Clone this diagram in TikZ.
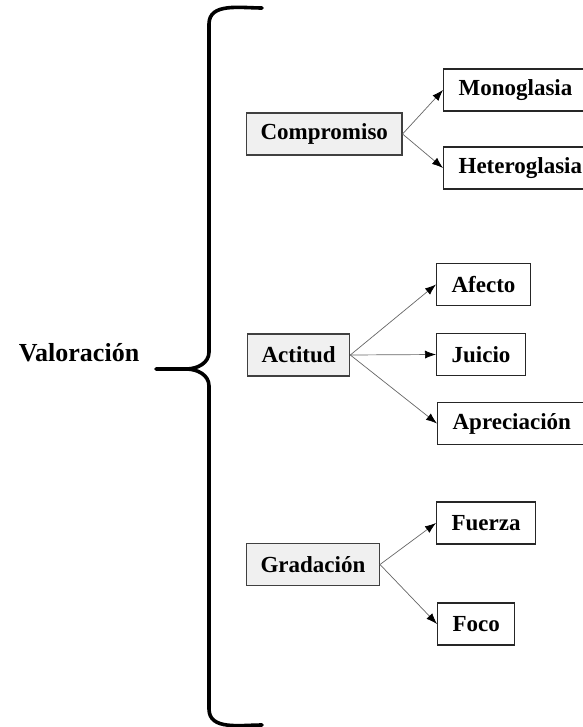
\documentclass[tikz,border=0pt]{standalone}
\usepackage{fontspec}
\setmainfont{Liberation Serif}
\usetikzlibrary{arrows.meta}
\tikzstyle{category} = [rectangle,
minimum height=42pt,
inner xsep=14pt,
anchor=west,
draw=black!75,
line width=1.2pt,
fill=black!6,
font=\fontsize{23}{27}\selectfont\bfseries]
\tikzstyle{option} = [rectangle,
minimum height=42pt,
inner xsep=15pt,
anchor=west,
draw=black!85,
line width=1.2pt,
fill=white,
font=\fontsize{23}{27}\selectfont\bfseries]
\tikzstyle{arrow} = [draw=black!60, line width=0.7pt, -{Latex[length=11pt,width=8pt,color=black]}]
\tikzstyle{brace} = [line width=3.6pt, line cap=round]

\begin{document}
\begin{tikzpicture}[x=1pt, y=-1pt]
			\useasboundingbox (0,0) rectangle (582,727);
			\node (valoracion) at (79,353) {\fontsize{26}{30}\selectfont\bfseries Valoración};

			% the brace
			\coordinate (tip) at (156,369);
			\draw[brace] (262,8) to[out=180,in=90] (209,24) -- (209,352)
						to[out=-90,in=0] (186,369) -- (tip);
			\draw[brace] (186,369) to[out=0,in=90] (209,386) -- (209,709)
						to[out=-90,in=180] (262,725);

			\node (compromiso) [category] at (246,134) {Compromiso};
			\node (actitud) [category] at (247,355) {Actitud};
			\node (gradacion) [category] at (246,564.5) {Gradación};

			\node (monoglasia) [option] at (443,90) {Monoglasia};
			\node (heteroglasia) [option] at (443,168) {Heteroglasia};
			\node (afecto) [option] at (436,284.5) {Afecto};
			\node (juicio) [option] at (436,354.5) {Juicio};
			\node (apreciacion) [option] at (437,423.5) {Apreciación};
			\node (fuerza) [option] at (436,523) {Fuerza};
			\node (foco) [option] at (437,624) {Foco};

			\draw[arrow] (compromiso.east) -- (monoglasia.west);
			\draw[arrow] (compromiso.east) -- (heteroglasia.west);
			\draw[arrow] (actitud.east) -- (afecto.west);
			\draw[arrow] (actitud.east) -- (juicio.west);
			\draw[arrow] (actitud.east) -- (apreciacion.west);
			\draw[arrow] (gradacion.east) -- (fuerza.west);
			\draw[arrow] (gradacion.east) -- (foco.west);
		\end{tikzpicture}
\end{document}
